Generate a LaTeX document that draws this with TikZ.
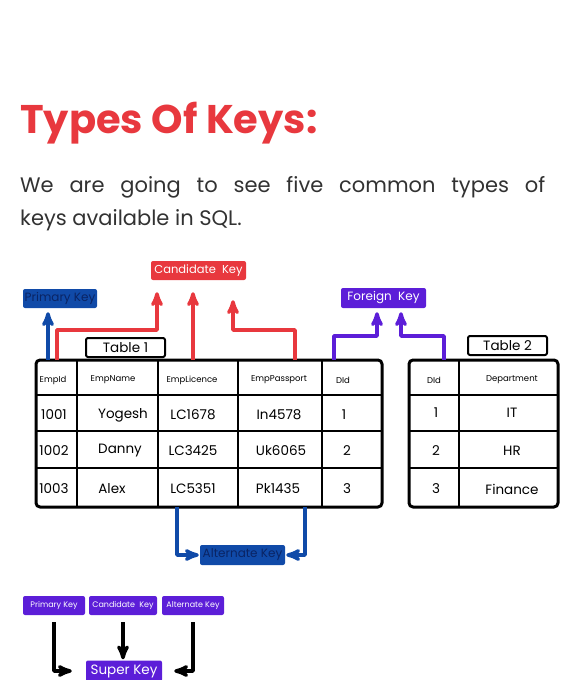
\documentclass[tikz,border=0pt]{standalone}
\usepackage{fontspec}
\setmainfont{Poppins}
\usetikzlibrary{arrows}

\definecolor{keyred}{RGB}{232,56,62}
\definecolor{keyblue}{RGB}{16,74,168}
\definecolor{keynavy}{RGB}{10,36,100}
\definecolor{keypurple}{RGB}{92,30,216}
\definecolor{subgray}{RGB}{50,50,50}

\begin{document}
\begin{tikzpicture}[x=1pt,y=-1pt,>=stealth',line join=round,
                    every node/.style={inner sep=0pt}]
  \tikzstyle{keybox}=[rounded corners=2pt,minimum height=19pt,font=\fontsize{11.5}{11.5}\selectfont]
  \tikzstyle{tagbox}=[draw=black,line width=2pt,rounded corners=2pt,minimum width=79pt,minimum height=19pt,font=\fontsize{13.5}{13.5}\selectfont]
  \tikzstyle{smallbox}=[keybox,fill=keypurple,text=white,minimum height=19pt,font=\fontsize{8}{8}\selectfont]
  \tikzstyle{frame}=[line width=3pt,rounded corners=4pt]
  \tikzstyle{grid}=[line width=2.2pt]
  \tikzstyle{headcell}=[font=\fontsize{8.5}{8.5}\selectfont]
  \tikzstyle{datacell}=[font=\fontsize{13.5}{13.5}\selectfont]
  \tikzstyle{keyarrow}=[->,line width=3.4pt]

  \useasboundingbox (0,0) rectangle (574,680);

  % heading
  \node[anchor=base west,text=keyred,font=\fontsize{40}{40}\selectfont\bfseries] (title) at (20,133) {Types Of Keys:};
  \node[anchor=base west,text=subgray,font=\fontsize{21}{21}\selectfont] (subone) at (20,192)
    {\makebox[525pt][s]{We are going to see five common types of}};
  \node[anchor=base west,text=subgray,font=\fontsize{21}{21}\selectfont] (subtwo) at (20,225) {keys available in SQL.};

  % key labels
  \node[keybox,fill=keyred,text=white,minimum width=95pt] (cand) at (198.5,270.5) {Candidate\ \ Key};
  \node[keybox,fill=keyblue,text=keynavy,minimum width=74pt,font=\fontsize{12}{12}\selectfont] (prim) at (60,298.5) {Primary Key};
  \node[keybox,fill=keypurple,text=white,minimum width=85pt,minimum height=20pt,font=\fontsize{12}{12}\selectfont] (forn) at (383.5,298) {Foreign\ \ Key};
  \node[keybox,fill=keyblue,text=keynavy,minimum width=85pt,minimum height=20pt,font=\fontsize{12}{12}\selectfont] (altk) at (242.5,555) {Alternate Key};
  \node[tagbox] (tabone) at (125.5,347.5) {Table 1};
  \node[tagbox] (tabtwo) at (507.5,345.5) {Table 2};

  % table 1
  \draw[frame] (36,360) rectangle (382,507);
  \foreach \y in {395,431,468} \draw[grid] (36,\y) -- (382,\y);
  \foreach \x in {77,158,238,322} \draw[grid] (\x,360) -- (\x,507);

  % table 2
  \draw[frame] (409,360) rectangle (558,507);
  \foreach \y in {395,431,468} \draw[grid] (409,\y) -- (558,\y);
  \draw[grid] (459,360) -- (459,507);

  % cells of table 1
  \foreach \x/\txt [count=\i] in {53/EmpId,113/EmpName,192/EmpLicence,279/EmpPassport,343/DId}
    \node[headcell] (ha\i) at (\x,380) {\txt};
  \foreach \x/\txt [count=\i] in {54/1001,123/Yogesh,193/LC1678,279/In4578,344/1}
    \node[datacell] (ra\i) at (\x,415) {\txt};
  \foreach \x/\txt [count=\i] in {54/1002,120/Danny,193/LC3425,281/Uk6065,347/2}
    \node[datacell] (rb\i) at (\x,451) {\txt};
  \foreach \x/\txt [count=\i] in {54/1003,112/Alex,193/LC5351,278/Pk1435,347/3}
    \node[datacell] (rc\i) at (\x,489) {\txt};

  % cells of table 2
  \node[headcell] (hb1) at (434,380) {DId};
  \node[headcell] (hb2) at (512,380) {Department};
  \foreach \y/\d/\txt [count=\i] in {413/1/IT,451/2/HR,489/3/Finance} {
    \node[datacell] (da\i) at (436,\y) {\d};
    \node[datacell] (db\i) at (512,\y) {\txt};
  }

  % arrow feet on the tables
  \coordinate (pkfoot)  at (48,360);
  \coordinate (ckfoota) at (57,360);
  \coordinate (ckfootb) at (193,360);
  \coordinate (ckfootc) at (295,360);
  \coordinate (fkfoota) at (334,360);
  \coordinate (fkfootb) at (444,360);
  \coordinate (akfoota) at (177,507);
  \coordinate (akfootb) at (305,507);

  \draw[keyarrow,draw=keyblue,shorten >=4pt] (pkfoot) -- (pkfoot |- prim.south);
  \draw[keyarrow,draw=keyred,shorten >=12pt] (ckfoota) -- ++(0,-30) -| ([xshift=-41.5pt]cand.south);
  \draw[keyarrow,draw=keyred,shorten >=12pt] (ckfootb) -- (ckfootb |- cand.south);
  \draw[keyarrow,draw=keyred,shorten >=20pt] (ckfootc) -- ++(0,-30) -| ([xshift=34.5pt]cand.south);
  \draw[keyarrow,draw=keypurple,shorten >=4pt] (fkfoota) -- ++(0,-24) -| ([xshift=-6.5pt]forn.south);
  \draw[keyarrow,draw=keypurple,shorten >=4pt] (fkfootb) -- ++(0,-24) -| ([xshift=17.5pt]forn.south);
  \draw[keyarrow,draw=keyblue,shorten >=1pt] (akfoota) |- (altk.west);
  \draw[keyarrow,draw=keyblue,shorten >=1pt] (akfootb) |- (altk.east);

  % super key
  \node[smallbox,minimum width=62pt] (primtwo) at (54,605.5) {Primary Key};
  \node[smallbox,minimum width=68pt] (candtwo) at (123,605.5) {Candidate\ \ Key};
  \node[smallbox,minimum width=62pt] (alttwo)  at (193,605.5) {Alternate Key};
  \node[keybox,fill=keypurple,text=white,minimum width=76pt,minimum height=21pt,font=\fontsize{13.5}{13.5}\selectfont] (superk) at (124,671) {Super Key};

  \draw[keyarrow,shorten <=7pt,shorten >=14pt] (primtwo.south) |- (superk.west);
  \draw[keyarrow,shorten <=7pt,shorten >=1pt] (candtwo.south) -- (candtwo.south |- superk.north);
  \draw[keyarrow,shorten <=7pt,shorten >=12pt] (alttwo.south) |- (superk.east);
\end{tikzpicture}
\end{document}
